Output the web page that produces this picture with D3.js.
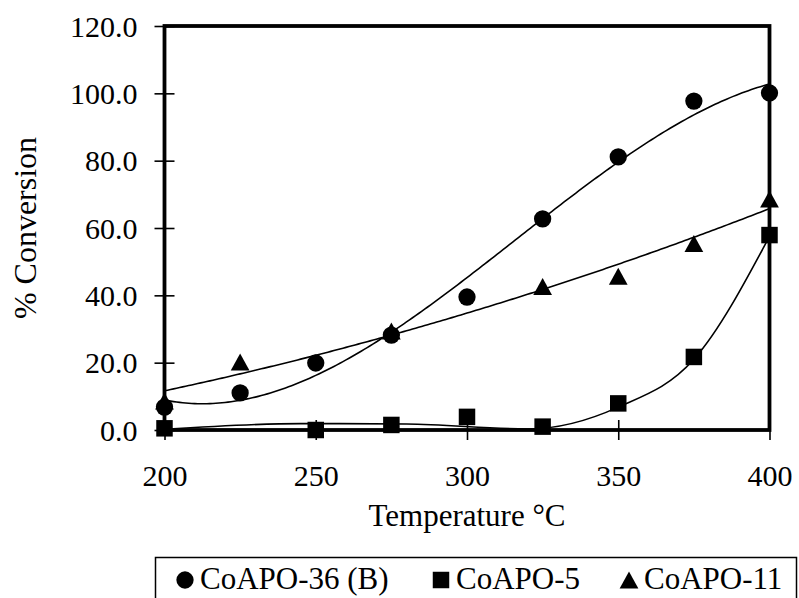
<!DOCTYPE html>
<html>
<head>
<meta charset="utf-8">
<script src="https://cdn.jsdelivr.net/npm/d3@7"></script>
<style>
  body { margin: 0; background: #fff; }
  text { font-family: "Liberation Serif", "Times New Roman", serif; fill: #000; }
</style>
</head>
<body>
<svg id="chart" width="799" height="598"></svg>
<script>
// values
var temps36 = [200, 225, 250, 275, 300, 325, 350, 375, 400];
var conv36  = [6.8, 11.0, 19.9, 28.2, 39.5, 62.7, 81.1, 97.7, 100.1];
var temps5  = [200, 250, 275, 300, 325, 350, 375, 400];
var conv5   = [0.5, 0.0, 1.5, 3.9, 1.0, 7.9, 21.7, 57.9];
var temps11 = [200, 225, 275, 325, 350, 375, 400];
var conv11  = [8.6, 20.2, 29.4, 42.6, 45.7, 55.4, 68.6];
// CoAPO-5 trend curve does not follow a plain polynomial, so it is read off the picture
var trend5T = [200, 245, 280, 320, 350, 375, 400];
var trend5V = [0.2, 1.9, 1.8, 0.3, 6.8, 21.0, 57.5];
var seriesNames = ["CoAPO-36 (B)", "CoAPO-5", "CoAPO-11"];
var trendOrders = [3, null, 2];
var xTicks = [200, 250, 300, 350, 400];
var yTicks = [0, 20, 40, 60, 80, 100, 120];

var svg = d3.select("#chart");
var plotL = 164.5, plotR = 769.5, plotT = 26, plotB = 430;

var x = d3.scaleLinear().domain([200, 400]).range([plotL, plotR]);
var y = d3.scaleLinear().domain([0, 120]).range([plotB, plotT]);

// least squares polynomial (excel style trendline)
function polyfit(xs, ys, order) {
  var n = order + 1, A = [], b = [];
  for (var i = 0; i < n; i++) {
    A[i] = [];
    for (var j = 0; j < n; j++) {
      A[i][j] = d3.sum(xs, function (v) { return Math.pow((v - 300) / 100, i + j); });
    }
    b[i] = d3.sum(xs, function (v, k) { return ys[k] * Math.pow((v - 300) / 100, i); });
  }
  for (var c = 0; c < n; c++) {
    for (var r = c + 1; r < n; r++) {
      var f = A[r][c] / A[c][c];
      for (var k = c; k < n; k++) A[r][k] -= f * A[c][k];
      b[r] -= f * b[c];
    }
  }
  var coef = [];
  for (var r2 = n - 1; r2 >= 0; r2--) {
    var s = b[r2];
    for (var k2 = r2 + 1; k2 < n; k2++) s -= A[r2][k2] * coef[k2];
    coef[r2] = s / A[r2][r2];
  }
  return function (t) {
    var u = (t - 300) / 100;
    return d3.sum(coef, function (cc, p) { return cc * Math.pow(u, p); });
  };
}

var series = [
  { name: seriesNames[0], xs: temps36, ys: conv36, order: trendOrders[0], shape: "circle" },
  { name: seriesNames[1], xs: temps5, ys: conv5, order: trendOrders[1], shape: "square" },
  { name: seriesNames[2], xs: temps11, ys: conv11, order: trendOrders[2], shape: "triangle" }
];

// taller-than-equilateral triangle like the original
var triShape = {
  draw: function (ctx, size) {
    var w = Math.sqrt(size) * 1.1, h = Math.sqrt(size);
    ctx.moveTo(0, -h / 2);
    ctx.lineTo(w / 2, h / 2);
    ctx.lineTo(-w / 2, h / 2);
    ctx.closePath();
  }
};
function markerPath(shape) {
  if (shape === "circle") return d3.symbol().type(d3.symbolCircle).size(235)();
  if (shape === "square") return d3.symbol().type(d3.symbolSquare).size(272)();
  return d3.symbol().type(triShape).size(290)();
}

var fitLine = d3.line()
  .x(function (d) { return x(d[0]); })
  .y(function (d) { return y(d[1]); });
var readLine = d3.line()
  .x(function (d) { return x(d[0]); })
  .y(function (d) { return y(d[1]); })
  .curve(d3.curveMonotoneX);

var tGrid = d3.range(200, 400.5, 1);

series.forEach(function (s) {
  var d;
  if (s.order) {
    var fit = polyfit(s.xs, s.ys, s.order);
    d = fitLine(tGrid.map(function (t) { return [t, fit(t)]; }));
  } else {
    d = readLine(trend5T.map(function (t, i) { return [t, trend5V[i]]; }));
  }
  svg.append("path")
    .attr("d", d)
    .attr("fill", "none")
    .attr("stroke", "#000")
    .attr("stroke-width", 1.6);
});

// frame
svg.append("rect")
  .attr("x", plotL).attr("y", plotT)
  .attr("width", plotR - plotL).attr("height", plotB - plotT)
  .attr("fill", "none").attr("stroke", "#000").attr("stroke-width", 3.8);

var yAxis = svg.append("g")
  .attr("transform", "translate(" + plotL + ",0)")
  .call(d3.axisLeft(y).tickValues(yTicks).tickFormat(d3.format(".1f")).tickSize(10));
yAxis.select(".domain").remove();
yAxis.selectAll(".tick line").attr("x1", -10).attr("x2", 10).attr("stroke-width", 1.6);
yAxis.selectAll(".tick text")
  .attr("x", -27).attr("dy", "0.34em")
  .style("font-size", "30px").style("font-family", "Liberation Serif");

var xAxis = svg.append("g")
  .attr("transform", "translate(0," + plotB + ")")
  .call(d3.axisBottom(x).tickValues(xTicks).tickFormat(d3.format("d")).tickSize(10));
xAxis.select(".domain").remove();
xAxis.selectAll(".tick line").attr("y1", -10).attr("y2", 10).attr("stroke-width", 1.6);
xAxis.selectAll(".tick text")
  .attr("y", 56).attr("dy", 0)
  .style("font-size", "30px").style("font-family", "Liberation Serif");

// markers
series.forEach(function (s) {
  svg.selectAll(null)
    .data(s.xs.map(function (t, i) { return [t, s.ys[i]]; }))
    .enter().append("path")
    .attr("d", markerPath(s.shape))
    .attr("fill", "#000")
    .attr("transform", function (d) { return "translate(" + x(d[0]) + "," + y(d[1]) + ")"; });
});

// axis titles
svg.append("text")
  .attr("x", (plotL + plotR) / 2).attr("y", 526)
  .attr("text-anchor", "middle")
  .style("font-size", "31px")
  .text("Temperature \u00b0C");

svg.append("text")
  .attr("transform", "translate(36," + (plotT + plotB) / 2 + ") rotate(-90)")
  .attr("text-anchor", "middle")
  .style("font-size", "32px")
  .text("% Conversion");

// legend
svg.append("rect")
  .attr("x", 155.5).attr("y", 557.5)
  .attr("width", 641).attr("height", 60)
  .attr("fill", "none").attr("stroke", "#000").attr("stroke-width", 1.5);

var legendX = [185, 441, 629];
var legend = svg.selectAll(".legend")
  .data(series)
  .enter().append("g")
  .attr("class", "legend")
  .attr("transform", function (d, i) { return "translate(" + legendX[i] + ",580)"; });
legend.append("path")
  .attr("d", function (d) { return markerPath(d.shape); })
  .attr("fill", "#000");
legend.append("text")
  .attr("x", 15).attr("y", 9)
  .style("font-size", "31px")
  .text(function (d) { return d.name; });
</script>
</body>
</html>
